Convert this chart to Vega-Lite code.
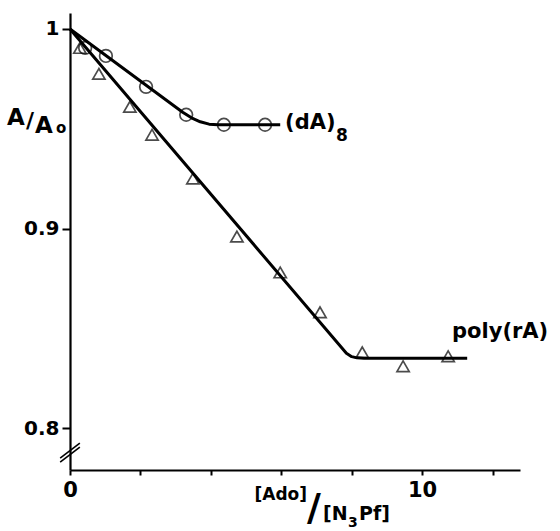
{
  "$schema": "https://vega.github.io/schema/vega-lite/v6.json",
  "width": 450,
  "height": 457,
  "autosize": "none",
  "padding": {"left": 70, "top": 13, "right": 40, "bottom": 61},
  "background": "white",
  "config": {"view": {"stroke": null}},
  "datasets": {
    "pts": [
      {"series": "(dA)8", "x": 0.43, "y": 0.9905},
      {"series": "(dA)8", "x": 1.02, "y": 0.9865},
      {"series": "(dA)8", "x": 2.16, "y": 0.971},
      {"series": "(dA)8", "x": 3.3, "y": 0.957},
      {"series": "(dA)8", "x": 4.37, "y": 0.952},
      {"series": "(dA)8", "x": 5.54, "y": 0.952},
      {"series": "poly(rA)", "x": 0.28, "y": 0.9905},
      {"series": "poly(rA)", "x": 0.82, "y": 0.9775},
      {"series": "poly(rA)", "x": 1.7, "y": 0.961},
      {"series": "poly(rA)", "x": 2.33, "y": 0.947},
      {"series": "poly(rA)", "x": 3.49, "y": 0.925},
      {"series": "poly(rA)", "x": 4.74, "y": 0.896},
      {"series": "poly(rA)", "x": 5.97, "y": 0.878},
      {"series": "poly(rA)", "x": 7.1, "y": 0.858},
      {"series": "poly(rA)", "x": 8.3, "y": 0.838},
      {"series": "poly(rA)", "x": 9.46, "y": 0.831},
      {"series": "poly(rA)", "x": 10.74, "y": 0.836}
    ],
    "fit": [
      {"series": "(dA)8", "x": 0, "y": 1},
      {"series": "(dA)8", "x": 3.2, "y": 0.9583},
      {"series": "(dA)8", "x": 3.45, "y": 0.9555},
      {"series": "(dA)8", "x": 3.7, "y": 0.9535},
      {"series": "(dA)8", "x": 3.95, "y": 0.9523},
      {"series": "(dA)8", "x": 4.2, "y": 0.952},
      {"series": "(dA)8", "x": 5.97, "y": 0.952},
      {"series": "poly(rA)", "x": 0, "y": 1},
      {"series": "poly(rA)", "x": 7.85, "y": 0.8375},
      {"series": "poly(rA)", "x": 8.0, "y": 0.8358},
      {"series": "poly(rA)", "x": 8.15, "y": 0.8352},
      {"series": "poly(rA)", "x": 8.35, "y": 0.835},
      {"series": "poly(rA)", "x": 11.28, "y": 0.835}
    ]
  },
  "layer": [
    {
      "data": {"name": "fit"},
      "mark": {"type": "line", "color": "black", "strokeWidth": 3, "interpolate": "linear", "strokeJoin": "round", "clip": false},
      "encoding": {
        "x": {
          "field": "x", "type": "quantitative",
          "scale": {"domain": [0, 12.78], "nice": false, "zero": false},
          "axis": {
            "values": [0, 1, 2, 3, 4, 5, 6, 7, 8, 9, 10, 11, 12],
            "labelExpr": "datum.value % 5 == 0 ? datum.label : ''",
            "title": null, "grid": false,
            "domainColor": "black", "domainWidth": 2.2,
            "tickColor": "black", "tickWidth": 2, "tickSize": 5,
            "labelFont": "DejaVu Sans", "labelFontWeight": "bold", "labelFontSize": 21,
            "labelColor": "black", "labelPadding": 4, "labelFlush": false
          }
        },
        "y": {
          "field": "y", "type": "quantitative",
          "scale": {"domain": [0.779, 1.008], "nice": false, "zero": false},
          "axis": {
            "values": [0.8, 0.9, 1],
            "labelExpr": "datum.value == 1 ? '1' : format(datum.value, '.1f')",
            "title": null, "grid": false,
            "domainColor": "black", "domainWidth": 2.2,
            "tickColor": "black", "tickWidth": 2, "tickSize": 8,
            "labelFont": "DejaVu Sans", "labelFontWeight": "bold", "labelFontSize": 20,
            "labelColor": "black", "labelPadding": 3
          }
        },
        "detail": {"field": "series"}
      }
    },
    {
      "data": {"name": "pts"},
      "transform": [{"filter": "datum.series == '(dA)8'"}],
      "mark": {"type": "point", "shape": "circle", "filled": false, "color": "black", "strokeWidth": 1.7, "size": 160},
      "encoding": {"x": {"field": "x", "type": "quantitative"}, "y": {"field": "y", "type": "quantitative"}}
    },
    {
      "data": {"name": "pts"},
      "transform": [{"filter": "datum.series == 'poly(rA)'"}],
      "mark": {"type": "point", "shape": "triangle-up", "filled": false, "color": "black", "strokeWidth": 1.7, "size": 150},
      "encoding": {"x": {"field": "x", "type": "quantitative"}, "y": {"field": "y", "type": "quantitative"}}
    },
    {
      "data": {"values": [
        {"x": -0.28, "y": 0.783, "x2": 0.28, "y2": 0.7905},
        {"x": -0.28, "y": 0.785, "x2": 0.28, "y2": 0.7925}
      ]},
      "mark": {"type": "rule", "color": "black", "strokeWidth": 1.6, "clip": false},
      "encoding": {
        "x": {"field": "x", "type": "quantitative"}, "x2": {"field": "x2"},
        "y": {"field": "y", "type": "quantitative"}, "y2": {"field": "y2"}
      }
    },
    {
      "data": {"values": [
        {"x": 6.108, "y": 0.9499, "t": "(dA)"},
        {"x": 10.85, "y": 0.8451, "t": "poly(rA)"}
      ]},
      "mark": {"type": "text", "align": "left", "baseline": "alphabetic", "font": "DejaVu Sans", "fontWeight": "bold", "fontSize": 21, "color": "black", "clip": false},
      "encoding": {"x": {"field": "x", "type": "quantitative"}, "y": {"field": "y", "type": "quantitative"}, "text": {"field": "t"}}
    },
    {
      "data": {"values": [{"x": 7.557, "y": 0.9439, "t": "8"}]},
      "mark": {"type": "text", "align": "left", "baseline": "alphabetic", "font": "DejaVu Sans", "fontWeight": "bold", "fontSize": 17, "color": "black", "clip": false},
      "encoding": {"x": {"field": "x", "type": "quantitative"}, "y": {"field": "y", "type": "quantitative"}, "text": {"field": "t"}}
    },
    {
      "data": {"values": [
        {"x": -1.79, "y": 0.9519, "t": "A"},
        {"x": -0.994, "y": 0.9479, "t": "A"}
      ]},
      "mark": {"type": "text", "align": "left", "baseline": "alphabetic", "font": "DejaVu Sans", "fontWeight": "bold", "fontSize": 23, "color": "black", "clip": false},
      "encoding": {"x": {"field": "x", "type": "quantitative"}, "y": {"field": "y", "type": "quantitative"}, "text": {"field": "t"}}
    },
    {
      "data": {"values": [{"x": -1.25, "y": 0.9504, "t": "/"}]},
      "mark": {"type": "text", "align": "left", "baseline": "alphabetic", "font": "DejaVu Sans", "fontWeight": "bold", "fontSize": 22, "color": "black", "clip": false},
      "encoding": {"x": {"field": "x", "type": "quantitative"}, "y": {"field": "y", "type": "quantitative"}, "text": {"field": "t"}}
    },
    {
      "data": {"values": [{"x": -0.40, "y": 0.9479, "t": "o"}]},
      "mark": {"type": "text", "align": "left", "baseline": "alphabetic", "font": "DejaVu Sans", "fontWeight": "bold", "fontSize": 15, "color": "black", "clip": false},
      "encoding": {"x": {"field": "x", "type": "quantitative"}, "y": {"field": "y", "type": "quantitative"}, "text": {"field": "t"}}
    },
    {
      "data": {"values": [{"x": 5.24, "y": 0.764, "t": "[Ado]"}]},
      "mark": {"type": "text", "align": "left", "baseline": "alphabetic", "font": "DejaVu Sans", "fontWeight": "bold", "fontSize": 17, "color": "black", "clip": false},
      "encoding": {"x": {"field": "x", "type": "quantitative"}, "y": {"field": "y", "type": "quantitative"}, "text": {"field": "t"}}
    },
    {
      "data": {"values": [{"x": 6.733, "y": 0.754, "t": "/"}]},
      "mark": {"type": "text", "align": "left", "baseline": "alphabetic", "font": "DejaVu Sans", "fontWeight": "bold", "fontSize": 38, "color": "black", "clip": false},
      "encoding": {"x": {"field": "x", "type": "quantitative"}, "y": {"field": "y", "type": "quantitative"}, "text": {"field": "t"}}
    },
    {
      "data": {"values": [
        {"x": 7.188, "y": 0.754, "t": "[N"},
        {"x": 8.21, "y": 0.754, "t": "Pf]"}
      ]},
      "mark": {"type": "text", "align": "left", "baseline": "alphabetic", "font": "DejaVu Sans", "fontWeight": "bold", "fontSize": 19, "color": "black", "clip": false},
      "encoding": {"x": {"field": "x", "type": "quantitative"}, "y": {"field": "y", "type": "quantitative"}, "text": {"field": "t"}}
    },
    {
      "data": {"values": [{"x": 7.898, "y": 0.7505, "t": "3"}]},
      "mark": {"type": "text", "align": "left", "baseline": "alphabetic", "font": "DejaVu Sans", "fontWeight": "bold", "fontSize": 14, "color": "black", "clip": false},
      "encoding": {"x": {"field": "x", "type": "quantitative"}, "y": {"field": "y", "type": "quantitative"}, "text": {"field": "t"}}
    }
  ]
}
